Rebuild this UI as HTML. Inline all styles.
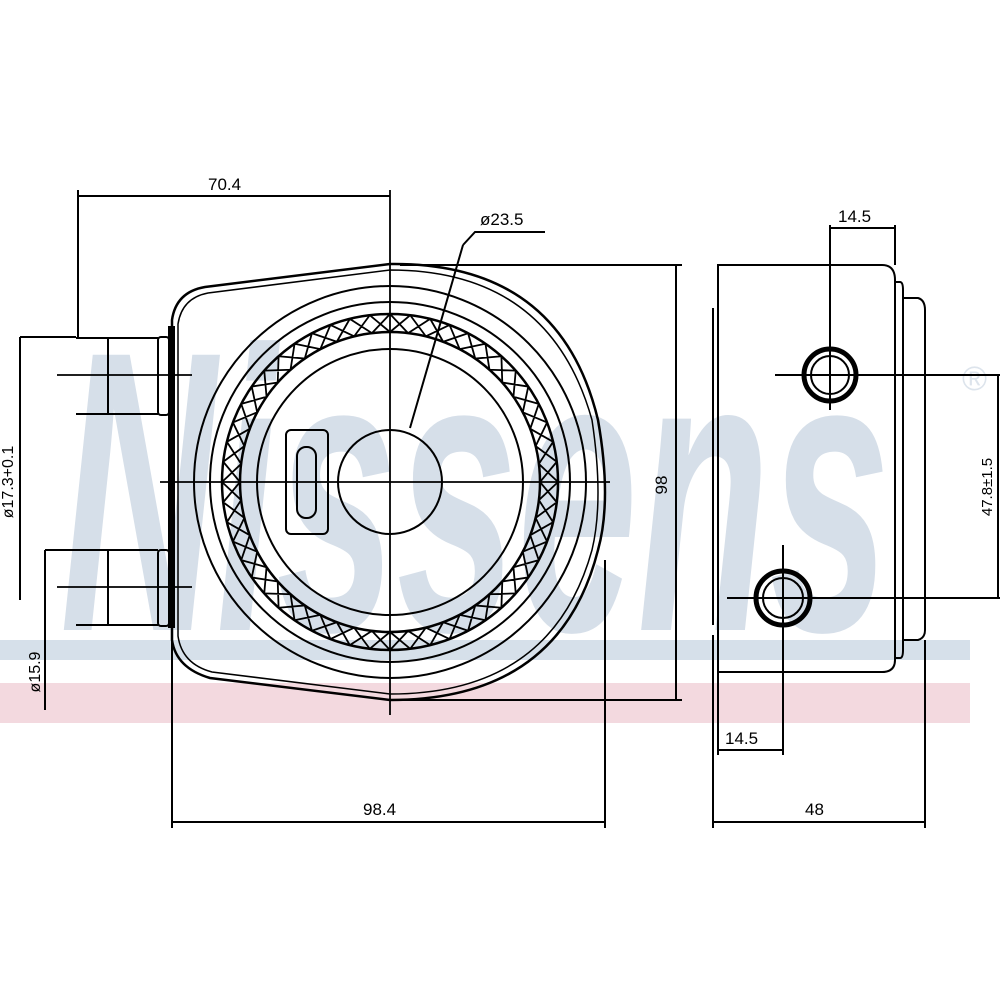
<!DOCTYPE html>
<html><head><style>
html,body{margin:0;padding:0;background:#fff;width:1000px;height:1000px;overflow:hidden}
svg{display:block}
text{font-family:"Liberation Sans",sans-serif;fill:#000}
</style></head><body>
<svg id="s" width="1000" height="1000" viewBox="0 0 1000 1000" xmlns="http://www.w3.org/2000/svg">
<rect width="1000" height="1000" fill="#fff"/>
<!-- watermark -->
<text x="60" y="630" font-size="400" font-style="italic" font-weight="bold" textLength="830" lengthAdjust="spacingAndGlyphs" style="fill:#d6dfe9">Nissens</text>
<text x="962" y="390" font-size="34" style="fill:#dde4ec">®</text>
<rect x="0" y="640" width="970" height="20" fill="#d6e0ea"/>
<rect x="0" y="683" width="970" height="40" fill="#f3d9df"/>
<g fill="none" stroke="#000" stroke-width="2">
<path d="M172,640 L172,320 Q176,292 205,287 L390,264 Q560,262 598,420 Q612,500 598,550 Q560,700 390,700 L210,678 Q176,668 172,640 Z" stroke-width="2.5"/>
<path d="M178,636 L178,324 Q182,298 208,293 L390,270 Q550,270 592,420 Q604,500 592,550 Q552,694 390,694 L212,672 Q182,664 178,636 Z" stroke-width="1.5"/>
<circle cx="390" cy="482" r="196"/>
<circle cx="390" cy="482" r="180"/>
<circle cx="390" cy="482" r="168" stroke-width="2.5"/>
<circle cx="390" cy="482" r="150" stroke-width="2.5"/>
<path id="hatch" stroke-width="1.8"/>
<circle cx="390" cy="482" r="133"/>
<circle cx="390" cy="482" r="52"/>
<rect x="286" y="430" width="42" height="104" rx="5"/>
<rect x="297" y="447" width="19" height="71" rx="9"/>
<rect x="169" y="327" width="5" height="300" fill="#000"/>
<rect x="158" y="337" width="11" height="78" rx="3"/>
<rect x="158" y="550" width="11" height="76" rx="3"/>
<path d="M76,338 H108 V414 H76 M108,338 H158 M108,414 H158"/>
<path d="M76,550 H108 V625 H76 M108,550 H158 M108,625 H158"/>
<path d="M57,375 H192 M57,587 H192 M160,482 H610 M390,190 V715" stroke-width="1.8"/>
<path d="M78,190 V337 M78,196 H390"/>
<path d="M20,337 H76 M20,337 V600"/>
<path d="M45,550 H76 M45,550 V710"/>
<path d="M410,428 L463,245 M463,245 L475,232 H545" />
<path d="M400,265 H682 M400,700 H682 M676,265 V700"/>
<path d="M172,640 V828 M605,560 V828 M172,822 H605"/>
<path d="M718,265 H882 Q895,265 895,280 V660 Q895,672 882,672 H718 Z"/>
<path d="M895,282 H900 Q903,282 903,290 V650 Q903,658 900,658 H895"/>
<path d="M903,298 H918 Q925,300 925,310 V630 Q925,638 918,640 H903"/>
<path d="M713,308 V625 M713,635 V828"/>
<circle cx="830" cy="375" r="26" stroke-width="5"/>
<circle cx="830" cy="375" r="19"/>
<circle cx="783" cy="598" r="27" stroke-width="5"/>
<circle cx="783" cy="598" r="20"/>
<path d="M775,375 H1000 M727,598 H1000 M830,225 V410 M783,545 V755 M895,225 V265"/>
<path d="M830,228 H895 M718,672 V755 M718,750 H783"/>
<path d="M990,375 H998 V598 H990"/>
<path d="M925,640 V828 M713,822 H925"/>
</g>
<text x="208" y="190" font-size="17">70.4</text>
<text x="480" y="225" font-size="17">ø23.5</text>
<text x="363" y="815" font-size="17">98.4</text>
<text x="805" y="815" font-size="17">48</text>
<text x="838" y="222" font-size="17">14.5</text>
<text x="725" y="744" font-size="17">14.5</text>
<text transform="translate(667,485) rotate(-90)" font-size="17" text-anchor="middle">98</text>
<text transform="translate(13,482) rotate(-90)" font-size="16" text-anchor="middle">ø17.3+0.1</text>
<text transform="translate(40,672) rotate(-90)" font-size="16" text-anchor="middle">ø15.9</text>
<text transform="translate(992,487) rotate(-90)" font-size="15" text-anchor="middle">47.8±1.5</text>
</svg>
<script>
var d="",n=52,cx=390,cy=482,r1=150,r2=168;
for(var i=0;i<n;i++){var a=i*2*Math.PI/n,b=(i+1)*2*Math.PI/n;
d+="M"+(cx+r1*Math.cos(a))+","+(cy+r1*Math.sin(a))+"L"+(cx+r2*Math.cos(b))+","+(cy+r2*Math.sin(b));
d+="M"+(cx+r2*Math.cos(a))+","+(cy+r2*Math.sin(a))+"L"+(cx+r1*Math.cos(b))+","+(cy+r1*Math.sin(b));}
document.getElementById("hatch").setAttribute("d",d);
</script>
</body></html>
